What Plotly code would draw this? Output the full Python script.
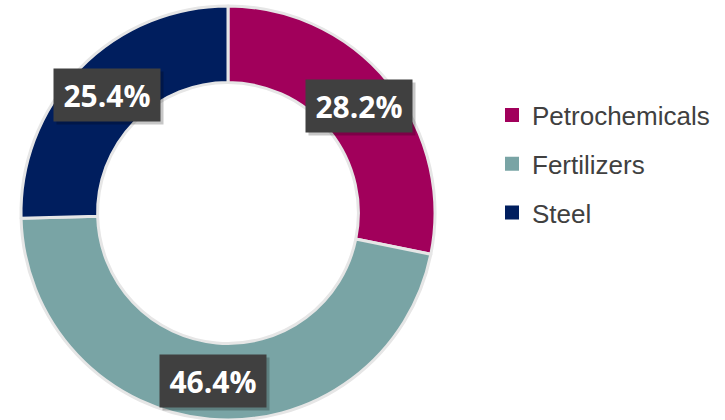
import math
import plotly.graph_objects as go

labels = ["Petrochemicals", "Fertilizers", "Steel"]
values = [28.2, 46.4, 25.4]
colors = ["#A1005B", "#79A4A5", "#001E5E"]
text_labels = ["28.2%", "46.4%", "25.4%"]

W, H = 725, 420
# pie placement (pixels)
px0, px1 = 20, 436
py0, py1 = 6, 420
cx, cy = (px0 + px1) / 2, (py0 + py1) / 2
R_out = min(px1 - px0, py1 - py0) / 2
hole = 0.63
R_mid = R_out * (1 + hole) / 2

fig = go.Figure()
fig.add_trace(go.Pie(
    labels=labels, values=values, hole=hole, sort=False,
    direction="clockwise", rotation=0,
    marker=dict(colors=colors, line=dict(color="#e6e6e6", width=3)),
    textinfo="none", hoverinfo="label+percent", showlegend=False,
    domain=dict(x=[px0 / W, px1 / W], y=[1 - py1 / H, 1 - py0 / H]),
))

# legend entries as dummy traces for spacing control
for lab, col in zip(labels, colors):
    fig.add_trace(go.Scatter(
        x=[None], y=[None], mode="markers", name=lab, legendgroup=lab,
        marker=dict(symbol="square", size=14, color=col),
    ))

total = sum(values)
cum = 0.0
for v, t in zip(values, text_labels):
    mid = (cum + v / 2) / total * 2 * math.pi
    cum += v
    x = cx + R_mid * math.sin(mid)
    y = cy - R_mid * math.cos(mid)
    # shadow
    fig.add_annotation(
        x=(x + 3) / W, y=1 - (y + 3) / H, xref="paper", yref="paper",
        xanchor="center", yanchor="middle",
        text=" ", showarrow=False, width=102, height=48, borderpad=2,
        bgcolor="rgba(0,0,0,0.22)",
    )
    fig.add_annotation(
        x=x / W, y=1 - y / H, xref="paper", yref="paper",
        xanchor="center", yanchor="middle",
        text="<b>" + t + "</b>", showarrow=False, width=102, height=48, borderpad=2,
        bgcolor="#404040", font=dict(family="Open Sans", size=30, color="white"),
    )

fig.update_layout(
    width=W, height=H, margin=dict(l=0, r=0, t=0, b=0),
    paper_bgcolor="white", plot_bgcolor="white",
    xaxis=dict(visible=False), yaxis=dict(visible=False),
    legend=dict(
        x=492 / W, y=1 - 164 / H, xanchor="left", yanchor="middle",
        traceorder="grouped", tracegroupgap=12, itemwidth=30,
        font=dict(family="Liberation Sans, Arial", size=26, color="#404040"),
        bgcolor="rgba(0,0,0,0)",
    ),
)

fig.write_html("out.html", config={"displayModeBar": False})

# remove the browser's default page margin so the figure fills the window
with open("out.html", "r", encoding="utf-8") as f:
    html = f.read()
html = html.replace("<body>", '<body style="margin:0;padding:0;overflow:hidden">', 1)
with open("out.html", "w", encoding="utf-8") as f:
    f.write(html)
